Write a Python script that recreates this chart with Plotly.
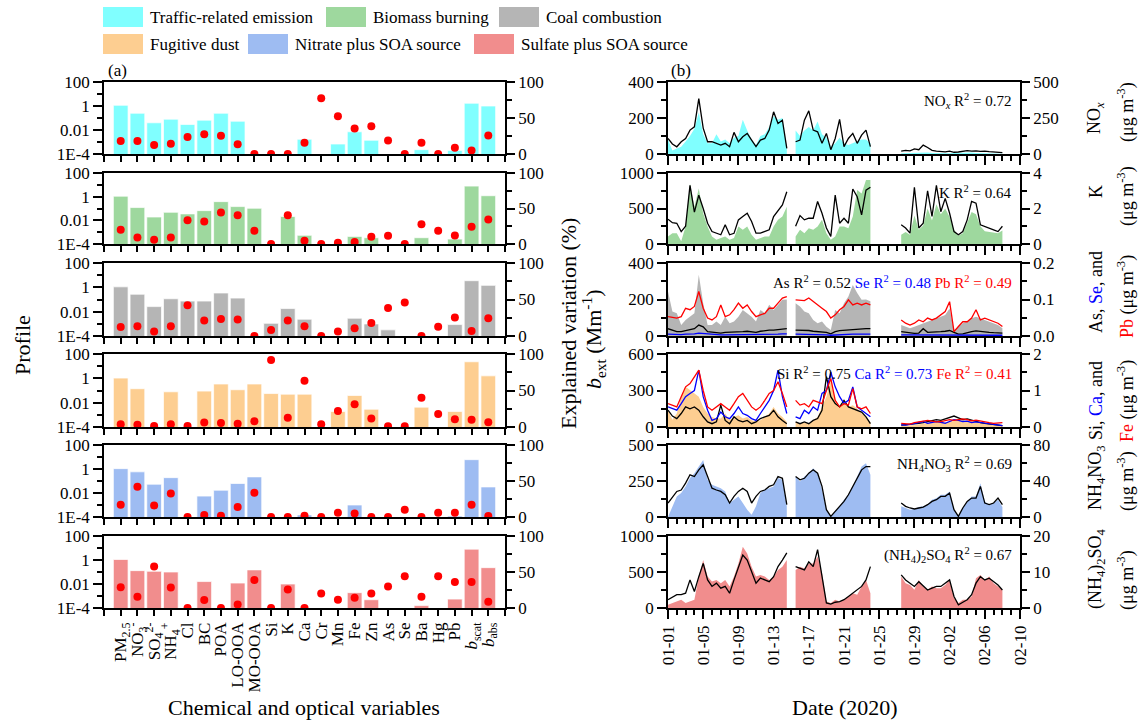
import pandas as pd
import plotly.graph_objects as go

FONT = "Liberation Serif"
W, H = 1140, 723

# ---------------- (a) source profiles ----------------
cat_labels = ["PM<sub>2.5</sub>", "NO<sub>3</sub><sup>-</sup>", "SO<sub>4</sub><sup>2-</sup>", "NH<sub>4</sub><sup>+</sup>",
              "Cl", "BC", "POA", "LO-OOA", "MO-OOA", "Si", "K", "Ca", "Cr", "Mn", "Fe", "Zn", "As", "Se",
              "Ba", "Hg", "Pb", "<i>b</i><sub>scat</sub>", "<i>b</i><sub>abs</sub>"]

source_names = ["Traffic-related emission", "Biomass burning", "Coal combustion",
                "Fugitive dust", "Nitrate plus SOA source", "Sulfate plus SOA source"]
source_colors = ["rgb(128,255,255)", "rgb(158,216,158)", "rgb(181,181,181)",
                 "rgb(253,206,145)", "rgb(158,188,242)", "rgb(241,141,141)"]

traffic_profile = [1.15, 0.25, 0.04, 0.08, 0.029, 0.066, 0.25, 0.054, None, None, None, 0.0017, None,
                   0.00068, 0.0071, 0.0014, None, None, 0.00023, None, 0.0002, 1.7, 1.0]
traffic_ev = [18, 18, 12.4, 14.3, 23.5, 27.6, 25.3, 13.4, 0, 0, 0, 15.7, 77.4, 52.5, 35.5, 38.7, 18.9, 0,
              15.7, 0, 8.8, 5, 25.8]
biomass_profile = [1.1, 0.12, 0.019, 0.048, 0.035, 0.066, 0.38, 0.145, 0.105, None, 0.021, 0.00054, None,
                   None, 0.00044, 0.00034, None, None, 0.00034, None, 0.00026, 7.8, 1.2]
biomass_ev = [20, 9.3, 6, 9.3, 33.5, 31.6, 44.2, 40.5, 18.6, 0, 40.5, 4.7, 0, 1.9, 2.8, 10.2, 11.6, 0,
              27.9, 18.6, 12.1, 24.2, 34.4]
coal_profile = [1.1, 0.27, 0.026, 0.115, 0.074, 0.074, 0.34, 0.13, None, 0.0011, 0.018, 0.0024, None, None,
                0.0029, 0.00098, 0.00032, None, None, None, 0.00087, 3.5, 1.45]
coal_ev = [12.4, 13.3, 6, 13.3, 42.2, 21.1, 23.4, 22.5, 0, 8.3, 21.1, 13.3, 0, 6, 10.5, 17.9, 38.5, 45.9,
           0, 12.8, 25.2, 6.9, 24.3]
dust_profile = [1.05, 0.14, None, 0.078, None, 0.089, 0.34, 0.115, 0.34, 0.056, 0.05, 0.05, None, 0.0019,
                0.039, 0.0029, None, None, 0.0043, None, 0.0019, 23, 1.6]
dust_ev = [3.7, 3.2, 1.4, 3.7, 1.4, 6, 5.5, 4.6, 7.8, 91.7, 12.8, 63.3, 3.7, 22, 31.2, 11.5, 0.9, 0.9,
           40, 17.9, 10.5, 10, 6.4]
nitrate_profile = [1.07, 0.58, 0.054, 0.19, None, 0.0055, 0.017, 0.062, 0.22, None, None, 0.00015, None,
                   None, 0.001, None, None, None, None, None, 0.00012, 6, 0.032]
nitrate_ev = [17, 41.9, 16.1, 32.7, 0, 2.8, 1.8, 13.8, 33.6, 0, 0, 1.8, 0, 6, 5, 0, 0, 10, 0, 6, 6, 17, 1.4]
sulfate_profile = [1.1, 0.13, 0.115, 0.1, None, 0.016, None, 0.012, 0.15, None, 0.01, None, None, None,
                   0.0019, 0.00049, None, None, 0.00016, None, 0.00055, 8, 0.23]
sulfate_ev = [28.9, 15.6, 57.8, 28.4, 0, 11, 0, 5, 39, 0, 25.7, 0, 20.2, 11.5, 14.2, 20.2, 29.8, 44, 15.6,
              44, 36.2, 36.2, 8.7]

profiles = [traffic_profile, biomass_profile, coal_profile, dust_profile, nitrate_profile, sulfate_profile]
explained = [traffic_ev, biomass_ev, coal_ev, dust_ev, nitrate_ev, sulfate_ev]

# ---------------- (b) time series (12-hourly, 2020-01-01 .. 2020-02-08) ----------------
times = pd.date_range("2020-01-01", periods=77, freq="12h")
GAP1 = [None]
GAP2 = [None] * 6

nox_bext = ([80, 20, 30, 40, 70, 100, 140, 230, 110, 60, 60, 110, 70, 80, 60, 90, 100, 190, 130, 80, 50, 100,
             110, 150, 210, 190, 200, 30] + GAP1 +
            [130, 100, 130, 150, 130, 180, 110, 90, 40, 60, 90, 60, 50, 60, 70, 80, 80, 60] + GAP2 +
            [4, 5, 4, 6, 8, 10, 8, 5, 4, 3, 3, 4, 5, 6, 8, 10, 8, 6, 5, 4, 3, 3, 2, 2])
nox_conc = ([108, 70, 50, 85, 108, 166, 189, 385, 180, 85, 85, 74, 62, 74, 51, 150, 85, 120, 143, 97, 51, 97,
             108, 166, 293, 212, 235, 39] + GAP1 +
            [85, 97, 235, 300, 166, 154, 74, 143, 30, 108, 240, 51, 108, 143, 74, 131, 166, 51] + GAP2 +
            [20, 25, 22, 35, 30, 62, 45, 25, 20, 18, 15, 20, 12, 14, 20, 24, 20, 22, 18, 20, 16, 14, 16, 10])

k_bext = ([107, 150, 150, 37, 246, 850, 525, 780, 430, 246, 107, 60, 84, 107, 60, 84, 246, 200, 246, 130, 60,
           84, 107, 107, 246, 340, 386, 525] + GAP1 +
          [107, 200, 153, 223, 200, 246, 340, 153, 60, 107, 246, 246, 223, 386, 760, 710, 900, 900] + GAP2 +
          [130, 170, 130, 400, 200, 260, 500, 330, 560, 420, 500, 380, 200, 120, 150, 300, 450, 420, 250, 180,
           170, 160, 150, 190])
k_conc = ([1.4, 1.2, 1.17, 0.7, 1.0, 3.3, 1.8, 2.75, 2.0, 1.17, 0.7, 0.61, 0.52, 1.08, 0.52, 0.6, 1.36, 1.55,
           1.73, 1.27, 0.61, 0.61, 0.7, 0.8, 1.55, 1.9, 2.2, 2.94] + GAP1 +
          [1.0, 1.6, 1.36, 1.45, 1.45, 2.4, 1.73, 0.9, 0.43, 2.75, 1.17, 1.45, 1.17, 3.1, 2.66, 1.64, 3.03,
           3.2] + GAP2 +
          [1.08, 0.9, 0.61, 3.2, 0.9, 1.17, 3.0, 1.55, 3.3, 1.82, 2.57, 1.73, 0.7, 0.52, 0.7, 1.36, 2.4, 2.3,
           1.08, 1.0, 0.9, 0.8, 0.7, 1.0])

as_bext = ([244, 134, 125, 60, 88, 106, 125, 336, 180, 60, 60, 79, 60, 106, 70, 79, 106, 143, 125, 106, 79,
            143, 125, 171, 143, 171, 198, 200] + GAP1 +
           [180, 161, 134, 125, 88, 70, 79, 51, 33, 143, 125, 180, 216, 280, 235, 198, 200, 190] + GAP2 +
           [60, 51, 42, 51, 60, 70, 79, 88, 97, 106, 115, 150, 33, 51, 70, 80, 97, 106, 97, 88, 79, 70, 60, 42])
as_conc = ([0.02, 0.015, 0.012, 0.012, 0.015, 0.016, 0.02, 0.03, 0.025, 0.012, 0.01, 0.01, 0.008, 0.01, 0.01,
            0.01, 0.012, 0.012, 0.013, 0.012, 0.01, 0.013, 0.015, 0.016, 0.016, 0.018, 0.02, 0.02] + GAP1 +
           [0.016, 0.016, 0.014, 0.015, 0.013, 0.012, 0.011, 0.01, 0.006, 0.012, 0.015, 0.016, 0.018, 0.017,
            0.018, 0.02, 0.02, 0.02] + GAP2 +
           [0.012, 0.01, 0.008, 0.007, 0.008, 0.02, 0.01, 0.01, 0.01, 0.012, 0.013, 0.015, 0.01, 0.005, 0.006,
            0.01, 0.012, 0.014, 0.012, 0.01, 0.01, 0.009, 0.009, 0.008])
se_conc = ([0.005, 0.004, 0.004, 0.004, 0.005, 0.005, 0.006, 0.008, 0.007, 0.004, 0.003, 0.003, 0.003, 0.003,
            0.003, 0.003, 0.004, 0.004, 0.004, 0.004, 0.003, 0.004, 0.004, 0.005, 0.005, 0.005, 0.006,
            0.006] + GAP1 +
           [0.005, 0.005, 0.004, 0.004, 0.004, 0.004, 0.003, 0.003, 0.002, 0.003, 0.004, 0.004, 0.005, 0.005,
            0.005, 0.005, 0.005, 0.005] + GAP2 +
           [0.003, 0.003, 0.002, 0.002, 0.002, 0.004, 0.003, 0.003, 0.003, 0.003, 0.004, 0.004, 0.003, 0.002,
            0.002, 0.003, 0.003, 0.004, 0.003, 0.003, 0.003, 0.003, 0.002, 0.002])
pb_conc = ([0.053, 0.05, 0.049, 0.053, 0.076, 0.072, 0.081, 0.122, 0.076, 0.049, 0.044, 0.053, 0.085, 0.053,
            0.058, 0.072, 0.09, 0.076, 0.085, 0.067, 0.053, 0.058, 0.062, 0.076, 0.076, 0.09, 0.104,
            0.108] + GAP1 +
           [0.099, 0.099, 0.097, 0.104, 0.094, 0.085, 0.076, 0.067, 0.049, 0.058, 0.072, 0.081, 0.099, 0.085,
            0.09, 0.085, 0.09, 0.085] + GAP2 +
           [0.044, 0.035, 0.03, 0.035, 0.044, 0.039, 0.049, 0.044, 0.049, 0.058, 0.067, 0.094, 0.012, 0.026,
            0.039, 0.039, 0.049, 0.072, 0.044, 0.049, 0.044, 0.039, 0.035, 0.026])

si_bext = ([138, 60, 110, 248, 330, 303, 275, 248, 165, 110, 83, 69, 69, 110, 55, 83, 96, 69, 83, 55, 41, 55,
            83, 110, 165, 110, 83, 41] + GAP1 +
           [41, 28, 35, 28, 55, 83, 165, 248, 385, 220, 165, 193, 165, 179, 152, 110, 83, 41] + GAP2 +
           [10, 10, 15, 15, 20, 30, 35, 40, 45, 50, 40, 45, 60, 70, 55, 50, 45, 40, 35, 30, 25, 20, 20, 15])
si_conc = ([0.46, 0.3, 0.23, 0.37, 0.55, 0.5, 0.55, 0.46, 0.28, 0.14, 0.09, 0.14, 0.6, 0.18, 0.09, 0.28, 0.18,
            0.14, 0.18, 0.09, 0.14, 0.23, 0.28, 0.32, 0.46, 0.28, 0.18, 0.09] + GAP1 +
           [0.14, 0.09, 0.14, 0.09, 0.18, 0.23, 0.46, 1.38, 0.83, 0.64, 0.55, 0.73, 0.55, 0.5, 0.46, 0.41, 0.28,
            0.09] + GAP2 +
           [0.05, 0.06, 0.06, 0.08, 0.1, 0.12, 0.15, 0.18, 0.2, 0.18, 0.22, 0.25, 0.3, 0.25, 0.2, 0.22, 0.18,
            0.15, 0.12, 0.1, 0.08, 0.06, 0.05, 0.04])
ca_conc = ([0.55, 0.5, 0.46, 0.64, 0.83, 0.92, 1.0, 1.56, 0.83, 0.46, 0.18, 0.23, 0.41, 0.28, 0.23, 0.37, 0.55,
            0.37, 0.32, 0.23, 0.18, 0.37, 0.55, 0.73, 1.0, 1.56, 0.83, 0.37] + GAP1 +
           [0.28, 0.23, 0.46, 0.37, 0.55, 0.46, 0.92, 1.0, 1.5, 1.1, 0.83, 0.64, 0.73, 1.1, 0.55, 0.46, 0.37,
            0.28] + GAP2 +
           [0.06, 0.05, 0.07, 0.1, 0.12, 0.15, 0.1, 0.12, 0.15, 0.13, 0.1, 0.15, 0.2, 0.18, 0.15, 0.16, 0.12,
            0.14, 0.12, 0.1, 0.08, 0.06, 0.05, 0.04])
fe_conc = ([0.64, 0.6, 0.55, 0.83, 1.1, 1.19, 1.38, 1.56, 1.0, 0.55, 0.46, 0.55, 0.64, 0.55, 0.46, 0.64, 0.83,
            0.92, 0.73, 0.55, 0.46, 0.55, 0.73, 0.92, 1.0, 1.24, 0.92, 0.55] + GAP1 +
           [0.73, 0.6, 0.64, 0.55, 0.73, 0.69, 0.64, 1.0, 1.33, 0.73, 0.55, 0.64, 0.6, 1.05, 0.55, 0.5, 0.55,
            0.37] + GAP2 +
           [0.1, 0.1, 0.08, 0.12, 0.14, 0.16, 0.18, 0.16, 0.14, 0.15, 0.18, 0.2, 0.18, 0.2, 0.22, 0.2, 0.17,
            0.19, 0.16, 0.14, 0.12, 0.1, 0.1, 0.12])

nitrate_bext = ([0, 70, 143, 166, 212, 270, 304, 350, 396, 258, 224, 212, 200, 177, 97, 120, 143, 97, 51, 16,
                 74, 166, 189, 200, 212, 270, 258, 74] + GAP1 +
                [281, 247, 281, 304, 339, 304, 189, 51, 5, 39, 74, 120, 154, 212, 281, 350, 373, 293] + GAP2 +
                [74, 62, 51, 55, 69, 74, 85, 120, 131, 154, 154, 177, 51, 5, 62, 108, 143, 143, 235, 108, 85,
                 97, 120, 69])
nitrate_conc = ([15.5, 22, 28.4, 30, 37.6, 46.9, 45, 52.4, 58, 45, 32, 30, 28.4, 24.7, 15.5, 22.9, 28.4, 32,
                 28.4, 15.5, 22.9, 28.4, 30, 34, 35.8, 45, 43, 13.7] + GAP1 +
                [45, 41.3, 43, 48.7, 52.4, 48.7, 34, 8.1, 0.7, 6.3, 11.8, 17.3, 24.7, 34, 43, 52.4, 56,
                 56] + GAP2 +
                [15.5, 11.8, 10, 8.9, 10, 11, 13.7, 17.3, 19.2, 22.9, 22.9, 26.6, 8.1, 0.7, 10, 17.3, 21, 21,
                 34, 15.5, 13.7, 15.5, 21, 13.7])

sulfate_bext = ([46, 70, 92, 115, 69, 92, 115, 436, 665, 436, 367, 390, 344, 390, 298, 436, 619, 849, 757, 573,
                 436, 459, 436, 390, 436, 528, 573, 665] + GAP1 +
                [528, 573, 550, 619, 619, 711, 482, 92, 69, 115, 92, 115, 161, 206, 183, 298, 390, 206] + GAP2 +
                [436, 344, 321, 252, 390, 298, 252, 298, 275, 275, 321, 390, 138, 69, 115, 115, 161, 413, 459,
                 390, 436, 344, 298, 252])
sulfate_conc = ([2.3, 3.0, 3.7, 3.7, 4.1, 7.8, 4.6, 8.7, 12.4, 7.8, 6.0, 6.9, 5.5, 6.0, 4.1, 7.8, 11.5, 14.7,
                 13.3, 10.1, 6.9, 8.3, 7.8, 7.3, 8.7, 11.5, 13.3, 15.3] + GAP1 +
                [11.5, 11.0, 10.6, 12.8, 11.5, 16.2, 8.7, 1.4, 1.1, 1.6, 1.8, 2.3, 3.2, 4.1, 5.0, 6.0, 7.8,
                 11.5] + GAP2 +
                [9.2, 7.8, 6.9, 6.0, 7.3, 6.0, 5.0, 5.5, 6.0, 6.0, 6.9, 7.8, 3.2, 0.9, 1.6, 2.3, 3.7, 6.9, 8.7,
                 7.8, 8.3, 7.3, 6.4, 5.0])

BLUE = "#0000FF"
RED = "#FF0000"
UG = "(μg m<sup>-3</sup>)"
def col(t, c):
    return f'<span style="color:{c}">{t}</span>'

rows_b = [
    dict(area=nox_bext, lmax=400, rmax=500, lines=[(nox_conc, "black")],
         label="NO<sub><i>x</i></sub> R<sup>2</sup> = 0.72", t1="NO<sub><i>x</i></sub>", t2=UG, tc=(118, 112)),
    dict(area=k_bext, lmax=1000, rmax=4, lines=[(k_conc, "black")],
         label="K R<sup>2</sup> = 0.64", t1="K", t2=UG, tc=(192, 196)),
    dict(area=as_bext, lmax=400, rmax=0.2, lines=[(as_conc, "black"), (se_conc, BLUE), (pb_conc, RED)],
         label="As R<sup>2</sup> = 0.52 " + col("Se R<sup>2</sup> = 0.48", BLUE) + " " + col("Pb R<sup>2</sup> = 0.49", RED),
         t1="As, " + col("Se", BLUE) + ", and", t2=col("Pb", RED) + " " + UG, tc=(292, 297), fmt=".1f"),
    dict(area=si_bext, lmax=600, rmax=2, lines=[(si_conc, "black"), (ca_conc, BLUE), (fe_conc, RED)],
         label="Si R<sup>2</sup> = 0.75 " + col("Ca R<sup>2</sup> = 0.73", BLUE) + " " + col("Fe R<sup>2</sup> = 0.41", RED),
         t1="Si, " + col("Ca", BLUE) + ", and", t2=col("Fe", RED) + " " + UG, tc=(401, 401)),
    dict(area=nitrate_bext, lmax=500, rmax=80, lines=[(nitrate_conc, "black")],
         label="NH<sub>4</sub>NO<sub>3</sub> R<sup>2</sup> = 0.69", t1="NH<sub>4</sub>NO<sub>3</sub>", t2=UG,
         tc=(478, 481)),
    dict(area=sulfate_bext, lmax=1000, rmax=20, lines=[(sulfate_conc, "black")],
         label="(NH<sub>4</sub>)<sub>2</sub>SO<sub>4</sub> R<sup>2</sup> = 0.67",
         t1="(NH<sub>4</sub>)<sub>2</sub>SO<sub>4</sub>", t2=UG, tc=(569, 580)),
]

# ---------------- layout geometry ----------------
row_tops = [82, 173, 263, 354, 445, 536]
row_bots = [154, 244, 336, 427, 517, 608]
XL = [104 / W, 505 / W]
XR = [668 / W, 1020 / W]

def py(p):
    return 1 - p / H

def ref(prefix, n):
    return prefix if n == 1 else f"{prefix}{n}"

def key(prefix, n):
    return f"{prefix}axis" if n == 1 else f"{prefix}axis{n}"

def segments(vals):
    """Split a series at missing values so each measuring period is filled on its own."""
    segs, cur_t, cur_v = [], [], []
    for t, v in zip(times, vals):
        if v is None:
            if cur_t:
                segs.append((cur_t, cur_v))
            cur_t, cur_v = [], []
        else:
            cur_t.append(t)
            cur_v.append(v)
    if cur_t:
        segs.append((cur_t, cur_v))
    return segs

TICKFONT = dict(family=FONT, size=17, color="black")
AX = dict(showline=True, linewidth=1.5, linecolor="black", showgrid=False, zeroline=False, automargin=False,
          ticks="outside", tickwidth=1.5, tickcolor="black", tickfont=TICKFONT)

fig = go.Figure()
layout = {}
cat_idx = list(range(len(cat_labels)))

for i in range(6):
    xa, xb = 2 * i + 1, 2 * i + 2
    ya1, ya2, yb1, yb2 = 4 * i + 1, 4 * i + 2, 4 * i + 3, 4 * i + 4
    dom = [py(row_bots[i]), py(row_tops[i])]
    bottom = (i == 5)

    # ---- (a)
    fig.add_trace(go.Bar(x=cat_idx, y=profiles[i], width=0.88,
                         marker=dict(color=source_colors[i], line=dict(color="rgba(255,255,255,0.7)", width=1)),
                         xaxis=ref("x", xa), yaxis=ref("y", ya1), showlegend=False))
    fig.add_trace(go.Scatter(x=cat_idx, y=explained[i], mode="markers", cliponaxis=True,
                             marker=dict(color=RED, size=8, line=dict(width=0)),
                             xaxis=ref("x", xa), yaxis=ref("y", ya2), showlegend=False))
    layout[key("x", xa)] = dict(AX, domain=XL, anchor=ref("y", ya1), range=[-1, 23], mirror=True,
                                tickmode="array", tickvals=list(range(-1, 24)),
                                ticktext=[""] + cat_labels + [""], showticklabels=bottom,
                                ticklen=6, tickangle=-90, tickfont=dict(family=FONT, size=17, color="black"))
    layout[key("y", ya1)] = dict(AX, domain=dom, anchor=ref("x", xa), type="log", range=[-4, 2],
                                 tickmode="array", tickvals=[1e-4, 1e-2, 1, 100],
                                 ticktext=["1E-4", "0.01", "1", "100"], ticklen=9,
                                 minor=dict(tickmode="array", tickvals=[1e-3, 0.1, 10], ticklen=5,
                                            ticks="outside", tickwidth=1.5, tickcolor="black"))
    layout[key("y", ya2)] = dict(AX, overlaying=ref("y", ya1), side="right", anchor=ref("x", xa),
                                 range=[0, 100], tickmode="array", tickvals=[0, 50, 100], ticklen=8,
                                 minor=dict(tickmode="array", tickvals=[25, 75], ticklen=5,
                                            ticks="outside", tickwidth=1.5, tickcolor="black"))

    # ---- (b)
    rb = rows_b[i]
    for seg_t, seg_v in segments(rb["area"]):
        fig.add_trace(go.Scatter(x=seg_t, y=seg_v, mode="lines", line=dict(width=0, color=source_colors[i]),
                                 fill="tozeroy", fillcolor=source_colors[i],
                                 xaxis=ref("x", xb), yaxis=ref("y", yb1), showlegend=False))
    for vals, c in rb["lines"]:
        fig.add_trace(go.Scatter(x=times, y=vals, mode="lines", line=dict(color=c, width=1.3),
                                 xaxis=ref("x", xb), yaxis=ref("y", yb2), showlegend=False))
    layout[key("x", xb)] = dict(AX, domain=XR, anchor=ref("y", yb1), type="date", mirror=True,
                                range=["2020-01-01", "2020-02-10"], tick0="2020-01-01", dtick=4 * 86400000,
                                tickformat="%m-%d", tickangle=-90, ticklen=9, showticklabels=bottom,
                                minor=dict(dtick=86400000, ticklen=5, ticks="outside", tickwidth=1.5,
                                           tickcolor="black"))
    lm, rm = rb["lmax"], rb["rmax"]
    layout[key("y", yb1)] = dict(AX, domain=dom, anchor=ref("x", xb), range=[0, lm], tickmode="array",
                                 tickvals=[0, lm / 2, lm], ticklen=9,
                                 minor=dict(tickmode="array", tickvals=[lm / 4, 3 * lm / 4], ticklen=5,
                                            ticks="outside", tickwidth=1.5, tickcolor="black"))
    yr = dict(AX, overlaying=ref("y", yb1), side="right", anchor=ref("x", xb), range=[0, rm],
              tickmode="array", tickvals=[0, rm / 2, rm], ticklen=8,
              minor=dict(tickmode="array", tickvals=[rm / 4, 3 * rm / 4], ticklen=5,
                         ticks="outside", tickwidth=1.5, tickcolor="black"))
    if "fmt" in rb:
        yr["tickformat"] = rb["fmt"]
    layout[key("y", yb2)] = yr

annotations = []
def ann(text, x, y, size=17, angle=0, xanchor="center", yanchor="middle"):
    annotations.append(dict(text=text, x=x / W, y=py(y), xref="paper", yref="paper", showarrow=False,
                            textangle=angle, xanchor=xanchor, yanchor=yanchor,
                            font=dict(family=FONT, size=size, color="black")))

for i, rb in enumerate(rows_b):
    ann(rb["label"], 1014, row_tops[i] + 19, size=15, xanchor="right")
    ann(rb["t1"], 1096, rb["tc"][0], size=18, angle=-90)
    ann(rb["t2"], 1126, rb["tc"][1], size=18, angle=-90)

ann("(a)", 117, 71, size=17)
ann("(b)", 681, 71, size=17)
ann("Profile", 22, 345, size=22, angle=-90)
ann("Explained variation (%)", 568, 324, size=22, angle=-90)
ann("<i>b</i><sub>ext</sub> (Mm<sup>-1</sup>)", 593, 340, size=22, angle=-90)
ann("Chemical and optical variables", 304, 707, size=22)
ann("Date (2020)", 845, 707, size=22)

# legend (swatches + labels)
legend_pos = [(103, 17), (326, 17), (499, 17), (103, 44), (248, 44), (474, 44)]
shapes = []
for (lx, ly), name, c in zip(legend_pos, source_names, source_colors):
    shapes.append(dict(type="rect", xref="paper", yref="paper", x0=lx / W, x1=(lx + 40) / W,
                       y0=py(ly + 10), y1=py(ly - 10), fillcolor=c, line=dict(width=0)))
    ann(name, lx + 45, ly, size=17, xanchor="left")

fig.update_layout(width=W, height=H, margin=dict(l=0, r=0, t=0, b=0, autoexpand=False), showlegend=False,
                  plot_bgcolor="white", paper_bgcolor="white", annotations=annotations, shapes=shapes,
                  font=dict(family=FONT, size=17, color="black"), **layout)

page_css = ("document.documentElement.style.margin='0px';document.documentElement.style.overflow='hidden';"
            "document.body.style.margin='0px';document.body.style.overflow='hidden';")
fig.write_html("out.html", config={"displayModeBar": False}, post_script=page_css)
